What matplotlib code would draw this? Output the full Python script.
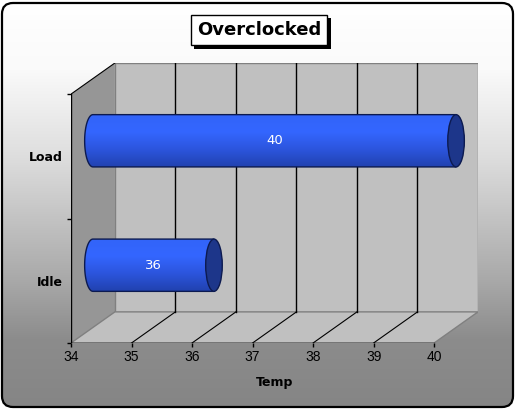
import numpy as np
import matplotlib
matplotlib.use('Agg')
import matplotlib.pyplot as plt
from matplotlib.patches import Polygon, Ellipse, FancyBboxPatch
from matplotlib.colors import LinearSegmentedColormap
import matplotlib.patheffects as pe

# Datos
categorias = ['Idle', 'Load']
temps = [36, 40]
x_ticks = [34, 35, 36, 37, 38, 39, 40]
titulo = 'Overclocked'
x_label = 'Temp'

# Geometria del grafico 3D (unidades de datos)
x_min, x_max = 34, 40
DX, DY = 0.725, 0.25       # desplazamiento de profundidad
alto_barra = 0.42
semi_ancho = 0.137          # semieje horizontal de la elipse

W, H = 516, 409
fig = plt.figure(figsize=(W / 100, H / 100), dpi=100)

# Fondo con degradado y borde redondeado
bg = fig.add_axes([0, 0, 1, 1])
bg.set_xlim(0, W)
bg.set_ylim(0, H)
bg.axis('off')
marco = FancyBboxPatch((2, 2), W - 5, H - 5, boxstyle='round,pad=0,rounding_size=11',
                       facecolor='none', edgecolor='none')
bg.add_patch(marco)
cmap_bg = LinearSegmentedColormap.from_list(
    'bg', [(0, '#858585'), (0.17, '#8c8c8c'), (0.31, '#a8a8a8'), (0.62, '#dedede'),
           (0.83, '#fafafa'), (1, '#ffffff')])
grad = np.linspace(0, 1, 256).reshape(-1, 1)
img = bg.imshow(grad, extent=[0, W, 0, H], origin='lower', cmap=cmap_bg, aspect='auto', zorder=0)
img.set_clip_path(marco)
borde = FancyBboxPatch((2, 2), W - 5, H - 5, boxstyle='round,pad=0,rounding_size=11',
                       facecolor='none', edgecolor='black', linewidth=1.6, zorder=1)
bg.add_patch(borde)

# Ejes principales
left, right = 71 / W, 478 / W
bottom, top = (H - 343) / H, (H - 63) / H
ax = fig.add_axes([left, bottom, right - left, top - bottom])
ax.patch.set_visible(False)
for s in ax.spines.values():
    s.set_visible(False)

n = len(categorias)
gris_borde = '#808080'

# Pared lateral
ax.add_patch(Polygon([(x_min, 0), (x_min + DX, DY), (x_min + DX, n + DY), (x_min, n)],
                     closed=True, facecolor='#969696', edgecolor='none', zorder=1))
# Pared del fondo
ax.add_patch(Polygon([(x_min + DX, DY), (x_max + DX, DY), (x_max + DX, n + DY), (x_min + DX, n + DY)],
                     closed=True, facecolor='#c0c0c0', edgecolor=gris_borde, linewidth=1, zorder=1))
# Piso
ax.add_patch(Polygon([(x_min, 0), (x_max, 0), (x_max + DX, DY), (x_min + DX, DY)],
                     closed=True, facecolor='#c0c0c0', edgecolor=gris_borde, linewidth=1, zorder=1))

# Lineas de cuadricula
for t in x_ticks[1:-1]:
    ax.plot([t + DX, t + DX], [DY, n + DY], color='black', lw=1, zorder=2)
    ax.plot([t, t + DX], [0, DY], color='black', lw=0.8, zorder=2)

# Ejes frontales
ax.plot([x_min, x_min], [0, n], color='black', lw=1, zorder=3)
ax.plot([x_min, x_max], [0, 0], color='black', lw=1, zorder=3)
ax.plot([x_min, x_min + DX], [n, n + DY], color='black', lw=0.8, zorder=3)

# Cilindros
cmap_bar = LinearSegmentedColormap.from_list('bar', ['#2142b0', '#2c55dd', '#3466ff', '#3264f8'])
for i, (cat, val) in enumerate(zip(categorias, temps)):
    yc = i + 0.5 + DY / 2
    yb, yt = yc - alto_barra / 2, yc + alto_barra / 2
    x0, x1 = x_min + DX / 2, val + DX / 2
    th = np.linspace(np.pi / 2, 3 * np.pi / 2, 60)
    arco = np.column_stack([x0 + semi_ancho * np.cos(th), yc + alto_barra / 2 * np.sin(th)])
    forma = np.vstack([[[x1, yt]], arco, [[x1, yb]]])
    cuerpo = Polygon(forma, closed=True, facecolor='none', edgecolor='#0c1a50', lw=1, zorder=5)
    ax.add_patch(cuerpo)
    g = np.linspace(0, 1, 128).reshape(-1, 1)
    im = ax.imshow(g, extent=[x0 - semi_ancho, x1, yb, yt], origin='lower', cmap=cmap_bar,
                   aspect='auto', zorder=4)
    im.set_clip_path(cuerpo)
    ax.add_patch(Ellipse((x1, yc), 2 * semi_ancho, alto_barra, facecolor='#1d368a',
                         edgecolor='#0c1a50', lw=1, zorder=6))
    ax.text((x_min + val) / 2 + DX / 2, yc, str(val), color='white', fontsize=9.5,
            ha='center', va='center', zorder=7, family='DejaVu Sans')

ax.set_xlim(x_min, x_max + DX)
ax.set_ylim(0, n + DY)

ax.set_xticks(x_ticks)
ax.set_xticklabels([str(t) for t in x_ticks], family='Liberation Sans', fontsize=10)
ax.tick_params(axis='x', direction='out', length=3, width=1, pad=2)
ax.set_yticks(range(n + 1))
ax.set_yticklabels([])
ax.tick_params(axis='y', direction='out', length=3, width=1)
ax.set_yticks([i + 0.5 for i in range(n)], minor=True)
ax.set_yticklabels(categorias, minor=True, fontweight='bold', fontsize=9, family='DejaVu Sans')
ax.tick_params(axis='y', which='minor', length=0, pad=6)
ax.set_xlabel(x_label, fontweight='bold', fontsize=9, labelpad=9, family='DejaVu Sans')

# Titulo con caja y sombra
tt = fig.text(259 / W, 1 - 30 / H, titulo, ha='center', va='center', fontsize=13,
              fontweight='bold', family='DejaVu Sans',
              bbox=dict(boxstyle='square,pad=0.35', facecolor='white', edgecolor='black', lw=1))
tt.get_bbox_patch().set_path_effects([
    pe.SimplePatchShadow(offset=(2.5, -2.5), shadow_rgbFace='black', alpha=1), pe.Normal()])

fig.savefig('out.png', dpi=100)
